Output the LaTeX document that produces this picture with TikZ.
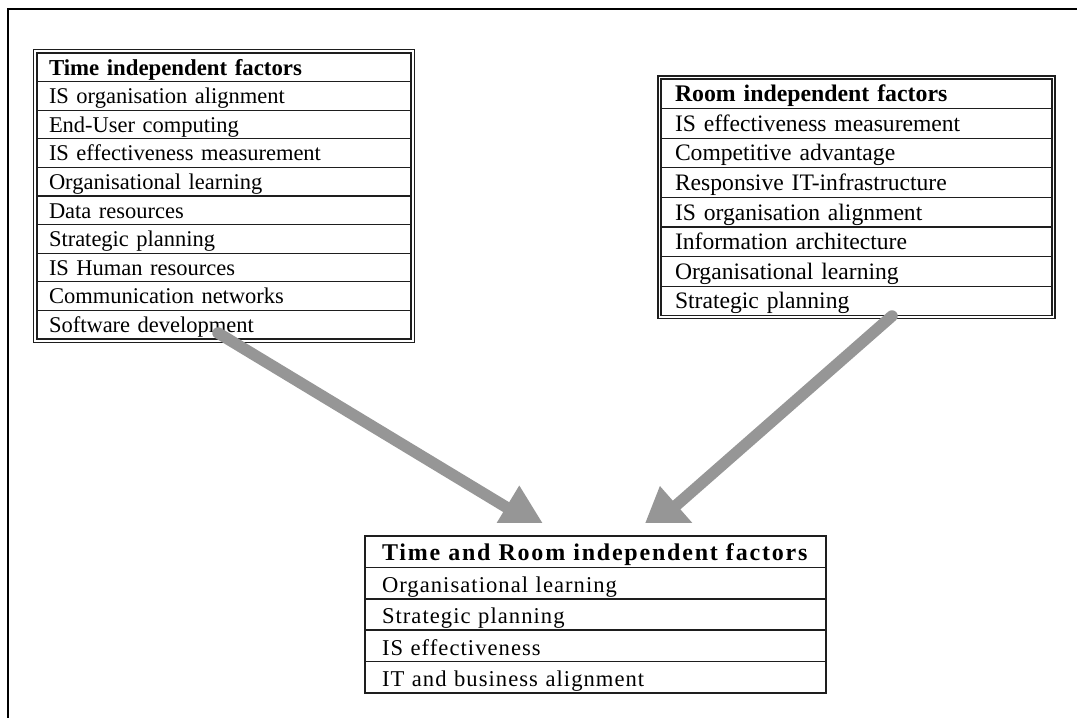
\documentclass[tikz,border=0pt]{standalone}
\usepackage{fontspec}
\setmainfont{Liberation Serif}
\newfontfamily\botfont[LetterSpace=4.6]{Liberation Serif}
\newfontfamily\botbfont[LetterSpace=7.5]{Liberation Serif}
\usetikzlibrary{arrows.meta,fit}
\definecolor{arrowgray}{RGB}{150,150,150}
\definecolor{linegray}{RGB}{30,30,30}
\tikzset{
  rowbase/.style={draw=linegray, anchor=north west, inner ysep=0pt, align=left, outer sep=0pt},
  lrow/.style={rowbase, line width=1.1pt, minimum width=374pt, minimum height=28.6pt,
    inner xsep=12pt, text width=350pt, text height=18pt, text depth=2.4pt,
    font=\fontsize{22.5}{26}\selectfont},
  lhead/.style={lrow, font=\fontsize{22.8}{26}\selectfont\bfseries},
  rrow/.style={rowbase, line width=1.1pt, minimum width=391pt, minimum height=29.6pt,
    inner xsep=14pt, text width=363pt, text height=18pt, text depth=2.4pt,
    font=\fontsize{23.6}{27}\selectfont},
  rhead/.style={rrow, font=\fontsize{23.8}{27}\selectfont\bfseries},
  brow/.style={rowbase, line width=1.7pt, minimum width=461pt, minimum height=31.4pt,
    inner xsep=17pt, text width=427pt, text height=20pt, text depth=1.6pt,
    font=\botfont\fontsize{22.6}{26}\selectfont},
  bhead/.style={brow, font=\botbfont\fontsize{24}{27}\selectfont\bfseries},
  outerframe/.style={draw=linegray, line width=1.1pt, inner sep=3.5pt},
  bigarrow/.style={draw=arrowgray, line width=11.5pt, line cap=round,
    -{Triangle[length=50pt,width=47pt]}, arrowgray},
  pageframe/.style={draw=black, line width=2.4pt},
}
\begin{document}
\begin{tikzpicture}[x=1pt,y=-1pt]
\fill[white] (0,0) rectangle (1077,718);
\useasboundingbox (0,0) rectangle (1077,718);

% page frame (top and left edges visible)
\draw[pageframe] (1077,9) -- (8,9) -- (8,718);

% Left table
\node[lhead] (L0) at (37,53) {Time independent factors};
\node[lrow] (L1) at (L0.south west) {IS organisation alignment};
\node[lrow] (L2) at (L1.south west) {End-User computing};
\node[lrow] (L3) at (L2.south west) {IS effectiveness measurement};
\node[lrow] (L4) at (L3.south west) {Organisational learning};
\node[lrow] (L5) at (L4.south west) {Data resources};
\node[lrow] (L6) at (L5.south west) {Strategic planning};
\node[lrow] (L7) at (L6.south west) {IS Human resources};
\node[lrow] (L8) at (L7.south west) {Communication networks};
\node[lrow] (L9) at (L8.south west) {Software development};
\node[outerframe, fit=(L0)(L9)] (Ltab) {};

% Right table
\node[rhead] (R0) at (661,79) {Room independent factors};
\node[rrow] (R1) at (R0.south west) {IS effectiveness measurement};
\node[rrow] (R2) at (R1.south west) {Competitive advantage};
\node[rrow] (R3) at (R2.south west) {Responsive IT-infrastructure};
\node[rrow] (R4) at (R3.south west) {IS organisation alignment};
\node[rrow] (R5) at (R4.south west) {Information architecture};
\node[rrow] (R6) at (R5.south west) {Organisational learning};
\node[rrow] (R7) at (R6.south west) {Strategic planning};
\node[outerframe, inner sep=3pt, fit=(R0)(R7)] (Rtab) {};

% Bottom table
\node[bhead] (B0) at (365,536) {Time and Room independent factors};
\node[brow] (B1) at (B0.south west) {Organisational learning};
\node[brow] (B2) at (B1.south west) {Strategic planning};
\node[brow] (B3) at (B2.south west) {IS effectiveness};
\node[brow] (B4) at (B3.south west) {IT and business alignment};

% Arrows
\coordinate (s1) at (218,333);
\coordinate (t1) at (549,533);
\coordinate (s2) at (892,316);
\coordinate (t2) at (639,538);
\begin{scope}
  \clip (0,0) rectangle (1077,522);
  \draw[bigarrow] (s1) -- (t1);
  \draw[bigarrow] (s2) -- (t2);
\end{scope}
\end{tikzpicture}
\end{document}
